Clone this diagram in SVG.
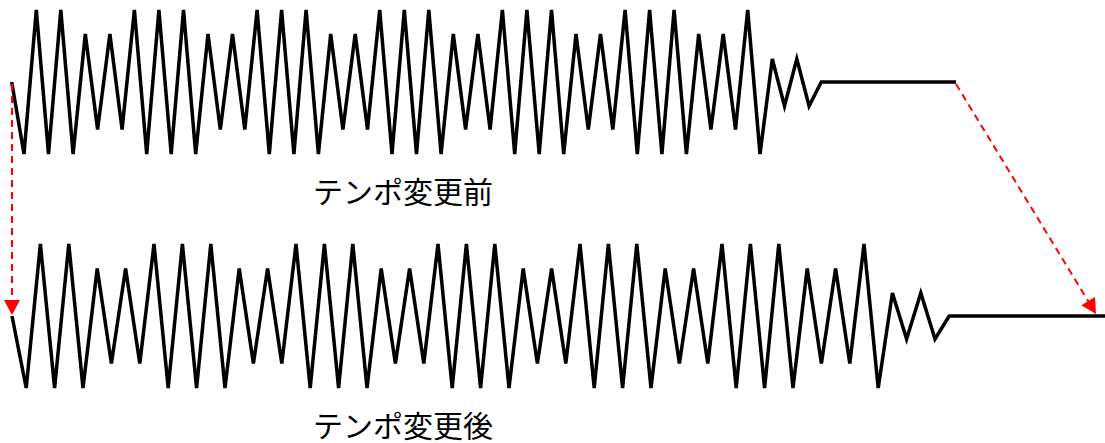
<svg xmlns="http://www.w3.org/2000/svg" width="1105" height="443" viewBox="0 0 1105 443">
<style>
.wave{fill:none;stroke:#000;stroke-width:3.5;stroke-linejoin:miter;stroke-miterlimit:4}
.conn{fill:none;stroke:#ff0000;stroke-width:2;stroke-dasharray:7,5}
.lbl{font-family:"Noto Sans CJK JP","Liberation Sans",sans-serif;font-size:30px;fill:#000;text-anchor:middle}
</style>
<defs>
<marker id="ah" markerUnits="userSpaceOnUse" markerWidth="16" markerHeight="16" viewBox="0 -8 15 16" refX="5" refY="0" orient="auto">
<path d="M0,-8 L15,0 L0,8 z" fill="#ff0000"/>
</marker>
</defs>
<rect width="1105" height="443" fill="#fff"/>
<g id="wave-before">
<polyline class="wave" points="11.7,82 24,154 36.3,10 48.5,154 60.8,10 73.1,154 85.3,34 97.6,129.5 109.9,34 122.1,129.5 134.4,10 146.7,154 158.9,10 171.2,154 183.5,10 195.7,154 208,34 220.3,129.5 232.5,34 244.8,129.5 257.1,10 269.3,154 281.6,10 293.9,154 306.1,10 318.4,154 330.7,34 342.9,129.5 355.2,34 367.5,129.5 379.7,10 392,154 404.3,10 416.5,154 428.8,10 441.1,154 453.3,34 465.6,129.5 477.9,34 490.1,129.5 502.4,10 514.7,154 526.9,10 539.2,154 551.5,10 563.7,154 576,34 588.3,129.5 600.5,34 612.8,129.5 625.1,10 637.3,154 649.6,10 661.9,154 674.1,10 686.4,154 698.7,34 710.9,129.5 723.2,34 735.5,129.5 747.7,10 760,154 772.3,59 784.5,106 796.8,59 809.1,106 821.3,82 956,82"/>
</g>
<g id="wave-after">
<polyline class="wave" points="12,316 26.2,388 40.4,244 54.6,388 68.8,244 83,388 97.2,268.5 111.4,363.5 125.6,268.5 139.8,363.5 154,244 168.2,388 182.4,244 196.6,388 210.8,244 225,388 239.2,268.5 253.4,363.5 267.6,268.5 281.8,363.5 296,244 310.2,388 324.4,244 338.6,388 352.8,244 367,388 381.2,268.5 395.4,363.5 409.6,268.5 423.8,363.5 438,244 452.2,388 466.4,244 480.6,388 494.8,244 509,388 523.2,268.5 537.4,363.5 551.6,268.5 565.8,363.5 580,244 594.2,388 608.4,244 622.6,388 636.8,244 651,388 665.2,268.5 679.4,363.5 693.6,268.5 707.8,363.5 722,244 736.2,388 750.4,244 764.6,388 778.8,244 793,388 807.2,268.5 821.4,363.5 835.6,268.5 849.8,363.5 864,244 878.2,388 892.4,293 906.6,339 920.8,293 935,339 949.2,316 1105,316"/>
</g>
<g id="label-before">
<text class="lbl" x="403" y="203">テンポ変更前</text>
</g>
<g id="label-after">
<text class="lbl" x="403" y="437">テンポ変更後</text>
</g>
<g id="connectors">
<line class="conn" x1="12" y1="84" x2="12" y2="305" marker-end="url(#ah)"/>
<line class="conn" x1="956" y1="84" x2="1090.8" y2="305.4" marker-end="url(#ah)"/>
</g>
</svg>
